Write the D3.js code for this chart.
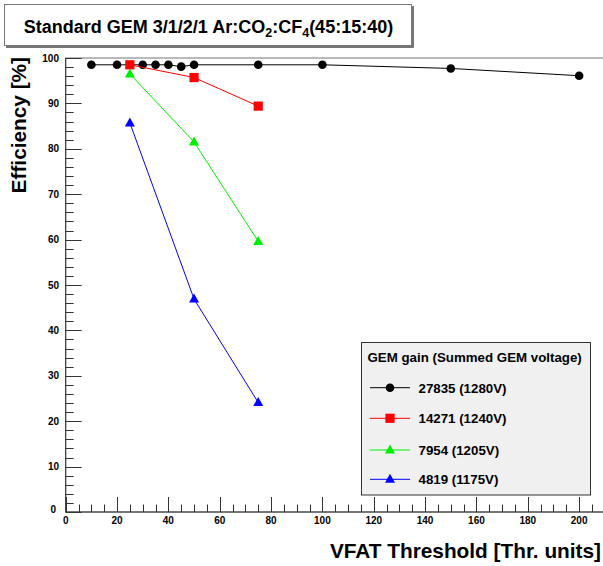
<!DOCTYPE html>
<html><head><meta charset="utf-8">
<script src="https://cdn.jsdelivr.net/npm/d3@7"></script>
<style>
body{margin:0;background:#fff;}
svg{display:block;font-family:"Liberation Sans",Arial,Helvetica,sans-serif;font-weight:bold;}
</style></head>
<body><div id="chart"></div>
<script>
const seriesNames = ["27835 (1280V)", "14271 (1240V)", "7954 (1205V)", "4819 (1175V)"];
const seriesColors = ["#000000", "#ff0000", "#00ee00", "#0000ff"];
const seriesMarkers = ["circle", "square", "triangle", "triangle"];
const xBlack = [10, 20, 30, 35, 40, 45, 50, 75, 100, 150, 200];
const yBlack = [98.5, 98.5, 98.5, 98.5, 98.5, 98.1, 98.5, 98.5, 98.5, 97.7, 96.1];
const xRed = [25, 50, 75];
const yRed = [98.5, 95.7, 89.4];
const xGreen = [25, 50, 75];
const yGreen = [96.5, 81.5, 59.6];
const xBlue = [25, 50, 75];
const yBlue = [85.7, 46.9, 24.1];
const xTicks = [0, 20, 40, 60, 80, 100, 120, 140, 160, 180, 200];
const yTicks = [0, 10, 20, 30, 40, 50, 60, 70, 80, 90, 100];
const legendTitle = "GEM gain (Summed GEM voltage)";
const xTitle = "VFAT Threshold [Thr. units]";
const yTitle = "Efficiency [%]";

const W = 603, H = 566;
const svg = d3.select("#chart").append("svg").attr("width", W).attr("height", H);
const x = d3.scaleLinear().domain([0, 210]).range([65.7, 604.8]);
const y = d3.scaleLinear().domain([0, 100]).range([512, 58]);

// frame
svg.append("rect").attr("x", x(0)).attr("y", y(100)).attr("width", x(210) - x(0)).attr("height", y(0) - y(100))
  .attr("fill", "none").attr("stroke", "#777").attr("stroke-width", 1);

// axes
const gx = svg.append("g");
gx.append("line").attr("x1", x(0)).attr("x2", x(210)).attr("y1", y(0)).attr("y2", y(0)).attr("stroke", "#333");
gx.selectAll("line.t").data(d3.range(0, 211, 5)).join("line").attr("class", "t")
  .attr("x1", d => Math.round(x(d)) + 0.5).attr("x2", d => Math.round(x(d)) + 0.5)
  .attr("y1", y(0)).attr("y2", d => y(0) - (d % 20 === 0 ? 15 : 7.5)).attr("stroke", "#333");
gx.selectAll("text").data(xTicks).join("text")
  .attr("x", d => x(d)).attr("y", 523.5).attr("text-anchor", "middle").attr("font-size", 10).text(d => d);

const gy = svg.append("g");
gy.append("line").attr("x1", x(0)).attr("x2", x(0)).attr("y1", y(0)).attr("y2", y(100)).attr("stroke", "#333");
gy.selectAll("line.t").data(d3.range(0, 101, 2)).join("line").attr("class", "t")
  .attr("y1", d => Math.round(y(d)) + 0.5).attr("y2", d => Math.round(y(d)) + 0.5)
  .attr("x1", x(0)).attr("x2", d => x(0) + (d % 10 === 0 ? 16 : 8)).attr("stroke", "#333");
gy.selectAll("text").data(yTicks).join("text")
  .attr("x", d => d === 0 ? 56 : 59).attr("y", d => y(d) + (d === 0 ? 1 : 3.5)).attr("text-anchor", "end").attr("font-size", 10).text(d => d);

// axis titles
svg.append("text").attr("x", 601).attr("y", 558).attr("text-anchor", "end").attr("font-size", 20.8).text(xTitle);
svg.append("text").attr("transform", "translate(26,57) rotate(-90)").attr("text-anchor", "end").attr("font-size", 20.8).text(yTitle);

// series
const data = [
  xBlack.map((d, i) => [d, yBlack[i]]),
  xRed.map((d, i) => [d, yRed[i]]),
  xGreen.map((d, i) => [d, yGreen[i]]),
  xBlue.map((d, i) => [d, yBlue[i]])
];
const line = d3.line().x(d => x(d[0])).y(d => y(d[1]));
function marker(g, type, cx, cy, color) {
  if (type === "circle") g.append("circle").attr("cx", cx).attr("cy", cy).attr("r", 4.3).attr("fill", color);
  else if (type === "square") g.append("rect").attr("x", cx - 4.6).attr("y", cy - 4.6).attr("width", 9.2).attr("height", 9.2).attr("fill", color);
  else g.append("path").attr("d", `M${cx},${cy - 5.5}L${cx + 5},${cy + 3.5}L${cx - 5},${cy + 3.5}Z`).attr("fill", color);
}
data.forEach((s, k) => {
  const g = svg.append("g");
  g.append("path").attr("d", line(s)).attr("fill", "none").attr("stroke", seriesColors[k]).attr("stroke-width", 1);
  s.forEach(p => marker(g, seriesMarkers[k], x(p[0]), y(p[1]), seriesColors[k]));
});

// legend
const lg = svg.append("g");
lg.append("rect").attr("x", 361.5).attr("y", 342.5).attr("width", 229).attr("height", 152.5)
  .attr("fill", "#f0f0f0").attr("stroke", "#333").attr("stroke-width", 1);
lg.append("text").attr("x", 367.5).attr("y", 361.5).attr("font-size", 13.3).text(legendTitle);
const ly = [387.7, 418.3, 450, 479.3];
seriesNames.forEach((n, k) => {
  lg.append("line").attr("x1", 370).attr("x2", 410).attr("y1", ly[k]).attr("y2", ly[k]).attr("stroke", seriesColors[k]).attr("stroke-width", 1);
  marker(lg, seriesMarkers[k], 390, ly[k], seriesColors[k]);
  lg.append("text").attr("x", 418.5).attr("y", ly[k] + 4.8).attr("font-size", 13.3).text(n);
});

// title box
svg.append("rect").attr("x", 6).attr("y", 6).attr("width", 408).attr("height", 42).attr("fill", "#777");
svg.append("rect").attr("x", 4.5).attr("y", 4.5).attr("width", 407).attr("height", 41).attr("fill", "#fff").attr("stroke", "#777");
const t = svg.append("text").attr("x", 208.5).attr("y", 33).attr("text-anchor", "middle").attr("font-size", 18);
t.append("tspan").text("Standard GEM 3/1/2/1 Ar:CO");
t.append("tspan").attr("font-size", 12.5).attr("dy", 4).text("2");
t.append("tspan").attr("dy", -4).text(":CF");
t.append("tspan").attr("font-size", 12.5).attr("dy", 4).text("4");
t.append("tspan").attr("dy", -4).text("(45:15:40)");
</script></body></html>
